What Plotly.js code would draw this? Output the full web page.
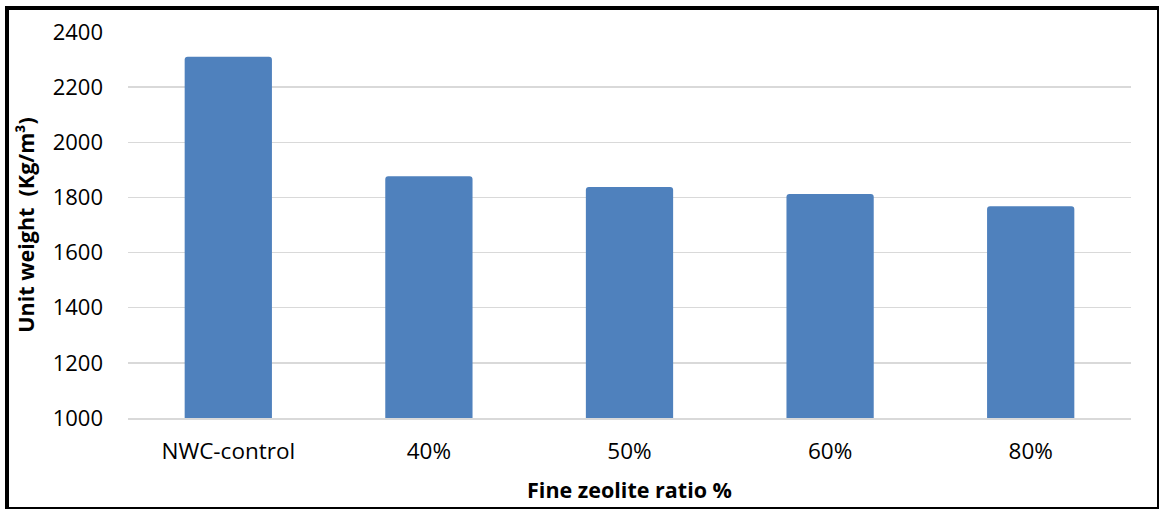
<!DOCTYPE html>
<html>
<head>
<meta charset="utf-8">
<script src="https://cdn.plot.ly/plotly-3.0.1.min.js"></script>
<style>
  html, body { margin: 0; padding: 0; background: #fff; }
  #wrap { position: relative; width: 1159px; height: 509px; }
  #chart { width: 1159px; height: 509px; }
  #frame { position: absolute; left: 5px; top: 6px; width: 1148px; height: 497px;
           border-left: 4px solid #000; border-top: 4px solid #000;
           border-right: 2px solid #000; border-bottom: 2px solid #000;
           pointer-events: none; }
</style>
</head>
<body>
<div id="wrap">
  <div id="chart"></div>
  <div id="frame"></div>
</div>
<script>
const categories = ["NWC-control", "40%", "50%", "60%", "80%"];
const unitWeight = [2310, 1877, 1838, 1812, 1768];
const yTicks = [1000, 1200, 1400, 1600, 1800, 2000, 2200, 2400];

const fontFamily = "'Open Sans', 'Liberation Sans', sans-serif";

const trace = {
  type: "bar",
  x: categories,
  y: unitWeight,
  marker: { color: "#4f81bd", line: { width: 0 } },
  width: 0.435,
  hoverinfo: "x+y"
};

const layout = {
  width: 1159,
  height: 509,
  margin: { l: 128, r: 28, t: 32, b: 91 },
  paper_bgcolor: "#ffffff",
  plot_bgcolor: "#ffffff",
  showlegend: false,
  barcornerradius: 3,
  font: { family: fontFamily, size: 22, color: "#000" },
  xaxis: {
    type: "category",
    showgrid: false,
    showline: true,
    linecolor: "#d9d9d9",
    linewidth: 1.5,
    ticks: "",
    ticklabelstandoff: 12,
    tickfont: { family: fontFamily, size: 22.5, color: "#000" },
    title: { text: "<b>Fine zeolite ratio %</b>", standoff: 18,
             font: { family: fontFamily, size: 21.5, color: "#000" } }
  },
  yaxis: {
    range: [1000, 2400],
    tickvals: yTicks,
    ticktext: yTicks.map(String),
    showgrid: true,
    gridcolor: "#d9d9d9",
    gridwidth: 1.5,
    zeroline: false,
    showline: false,
    ticks: "",
    ticklabelstandoff: 24,
    tickfont: { family: fontFamily, size: 22, color: "#000" },
    title: { text: "<b>Unit weight  (Kg/m³)</b>", standoff: 12,
             font: { family: fontFamily, size: 21.5, color: "#000" } }
  }
};

Plotly.newPlot("chart", [trace], layout, { displayModeBar: false, staticPlot: true });
</script>
</body>
</html>
